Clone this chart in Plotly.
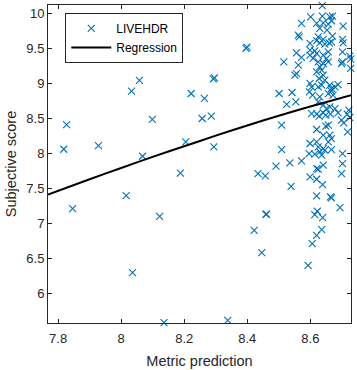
import plotly.graph_objects as go

# LIVEHDR scatter data (metric prediction, subjective score)
livehdr_x = [
    7.818, 7.827, 7.928, 8.033, 8.058, 8.099, 8.068, 8.188, 7.846, 8.016,
    8.122, 8.036, 8.136, 8.222, 8.264, 8.292, 8.296, 8.257, 8.286, 8.294,
    8.205, 8.396, 8.399, 8.434, 8.457, 8.338, 8.422, 8.446, 8.459, 8.461,
    8.501, 8.542, 8.516, 8.509, 8.509, 8.491, 8.535, 8.572, 8.525, 8.554,
    8.539,
    8.638, 8.601, 8.572, 8.638, 8.662, 8.670, 8.620, 8.641, 8.657, 8.667,
    8.704, 8.630, 8.653, 8.562, 8.565, 8.625, 8.641, 8.670, 8.667, 8.620,
    8.630, 8.599, 8.646, 8.660, 8.704, 8.702, 8.599, 8.614, 8.556, 8.620,
    8.657, 8.702, 8.725, 8.599, 8.641, 8.572, 8.609,
    8.562, 8.551, 8.556, 8.625, 8.630, 8.641, 8.651, 8.657, 8.620, 8.636,
    8.641, 8.628, 8.646, 8.699, 8.702, 8.728, 8.728, 8.599, 8.604, 8.625,
    8.636, 8.662, 8.667, 8.678, 8.688, 8.597, 8.607, 8.630, 8.625, 8.657,
    8.667, 8.672, 8.641, 8.651, 8.662, 8.678, 8.604, 8.722,
    8.620, 8.628, 8.641, 8.649, 8.664, 8.688, 8.717, 8.699, 8.706, 8.725,
    8.620, 8.649, 8.657, 8.718, 8.641, 8.662, 8.667, 8.657, 8.599, 8.620,
    8.625, 8.641, 8.630, 8.646, 8.667, 8.614, 8.596, 8.636, 8.641, 8.702,
    8.702, 8.620,
    8.625, 8.699, 8.599, 8.620, 8.639, 8.620, 8.667, 8.664, 8.694, 8.614,
    8.622, 8.639,
    8.636, 8.620, 8.606, 8.593,
]
livehdr_y = [
    8.061, 8.414, 8.114, 8.890, 9.043, 8.486, 7.961, 7.720, 7.214, 7.400,
    7.104, 6.300, 5.585, 8.857, 8.786, 9.065, 9.080, 8.500, 8.533, 8.094,
    8.166, 9.500, 9.520, 7.714, 7.680, 5.620, 6.904, 6.586, 7.130, 7.136,
    8.857, 8.871, 9.309, 8.405, 8.057, 7.819, 7.867, 7.895, 8.700, 8.737,
    7.530,
    10.110, 9.952, 9.857, 9.961, 9.952, 9.960, 9.857, 9.866, 9.847, 9.895,
    9.819, 9.786, 9.762, 9.690, 9.666, 9.666, 9.628, 9.676, 9.595, 9.610,
    9.580, 9.571, 9.561, 9.580, 9.580, 9.628, 9.476, 9.466, 9.438, 9.428,
    9.452, 9.452, 9.390, 9.404, 9.404, 9.371, 9.357,
    9.261, 9.118, 9.142, 9.309, 9.237, 9.285, 9.356, 9.309, 9.166, 9.190,
    9.118, 9.071, 9.047, 9.285, 9.309, 9.347, 9.214, 9.000, 8.952, 8.952,
    8.976, 8.976, 8.928, 8.952, 8.985, 8.880, 8.833, 8.809, 8.737, 8.856,
    8.890, 8.833, 8.690, 8.642, 8.666, 8.642, 8.570, 8.618,
    8.562, 8.533, 8.581, 8.548, 8.562, 8.581, 8.562, 8.476, 8.438, 8.514,
    8.343, 8.390, 8.405, 8.310, 8.262, 8.262, 8.214, 8.167, 8.143, 8.167,
    8.095, 8.071, 8.024, 8.048, 8.057, 7.990, 8.000, 7.976, 7.833, 8.000,
    7.857, 7.786,
    7.776, 7.714, 7.666, 7.633, 7.557, 7.395, 7.366, 7.381, 7.228, 7.128,
    7.176, 7.085,
    6.914, 6.833, 6.714, 6.404,
]

# Regression curve samples
reg_x = [7.768, 7.9, 8.0, 8.1, 8.2, 8.3, 8.4, 8.5, 8.6, 8.729]
reg_y = [7.414, 7.632, 7.794, 7.952, 8.104, 8.255, 8.400, 8.540, 8.672, 8.833]

x_ticks = [7.8, 8.0, 8.2, 8.4, 8.6]
x_ticklabels = ["7.8", "8", "8.2", "8.4", "8.6"]
y_ticks = [6, 6.5, 7, 7.5, 8, 8.5, 9, 9.5, 10]
y_ticklabels = ["6", "6.5", "7", "7.5", "8", "8.5", "9", "9.5", "10"]

FONT = "Liberation Sans, Arial, Helvetica, sans-serif"
AXC = "#262626"

fig = go.Figure()
fig.add_trace(go.Scatter(
    x=livehdr_x, y=livehdr_y, mode="markers", name="LIVEHDR",
    marker=dict(symbol="x-thin", size=7, color="#0072BD",
                line=dict(width=1.1, color="#0072BD")),
    cliponaxis=False,
))
fig.add_trace(go.Scatter(
    x=reg_x, y=reg_y, mode="lines", name="Regression",
    line=dict(color="black", width=2, shape="spline", smoothing=0.6),
))

axis_common = dict(
    showgrid=False, zeroline=False, showline=True, linecolor=AXC, linewidth=1,
    mirror="ticks", ticks="inside", ticklen=4, tickwidth=1, tickcolor=AXC,
    tickfont=dict(family=FONT, size=13, color=AXC),
)
fig.update_xaxes(
    range=[7.768, 8.729], tickvals=x_ticks, ticktext=x_ticklabels,
    ticklabelstandoff=3,
    title=dict(text="Metric prediction", font=dict(family=FONT, size=14.5, color=AXC), standoff=11),
    **axis_common,
)
fig.update_yaxes(
    range=[5.581, 10.12], tickvals=y_ticks, ticktext=y_ticklabels,
    title=dict(text="Subjective score", font=dict(family=FONT, size=14.5, color=AXC), standoff=6),
    **axis_common,
)
fig.update_layout(
    width=357, height=370,
    margin=dict(l=48, r=6, t=5, b=47, autoexpand=False),
    plot_bgcolor="white", paper_bgcolor="white",
    font=dict(family=FONT, color=AXC),
    legend=dict(
        x=0.057, y=0.975, xanchor="left", yanchor="top",
        bgcolor="white", bordercolor=AXC, borderwidth=1,
        font=dict(family=FONT, size=12, color="black"),
        itemwidth=40, tracegroupgap=0,
    ),
    showlegend=True,
)
fig.write_html("out.html", config={"displayModeBar": False},
               post_script="document.body.style.margin='0px';")
